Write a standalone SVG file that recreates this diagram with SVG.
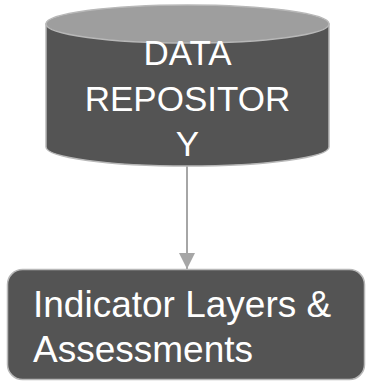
<svg xmlns="http://www.w3.org/2000/svg" width="366" height="381" viewBox="0 0 366 381">
<defs>
<style>
.body{fill:#545454;stroke:#b8b8b8;stroke-width:1.5}
.top{fill:#9e9e9e;stroke:#b8b8b8;stroke-width:1.5}
.t{font-family:"Liberation Sans",Arial,sans-serif;fill:#ffffff}
.edge{stroke:#a6a6a6;stroke-width:2;fill:none}
</style>
<marker id="ah" markerWidth="16" markerHeight="16" refX="16" refY="8" orient="auto" markerUnits="userSpaceOnUse">
<path d="M0,0 L16,8 L0,16 Z" fill="#a6a6a6"/>
</marker>
</defs>
<g id="edges">
<path class="edge" d="M187,166 L187,269" marker-end="url(#ah)"/>
</g>
<g id="repo">
<path class="body" d="M46,24 L46,147 A141.5,19 0 0 0 329,147 L329,24 Z"/>
<ellipse class="top" cx="187.5" cy="24" rx="141.5" ry="19"/>
<text class="t" font-size="35" text-anchor="middle"><tspan x="187.5" y="65">DATA</tspan><tspan x="187.5" y="111">REPOSITOR</tspan><tspan x="187.5" y="156">Y</tspan></text>
</g>
<g id="indicator">
<rect class="body" x="7.5" y="269.5" width="357" height="110" rx="15"/>
<text class="t" font-size="37"><tspan x="33" y="317">Indicator Layers &amp;</tspan><tspan x="33" y="362">Assessments</tspan></text>
</g>
</svg>
